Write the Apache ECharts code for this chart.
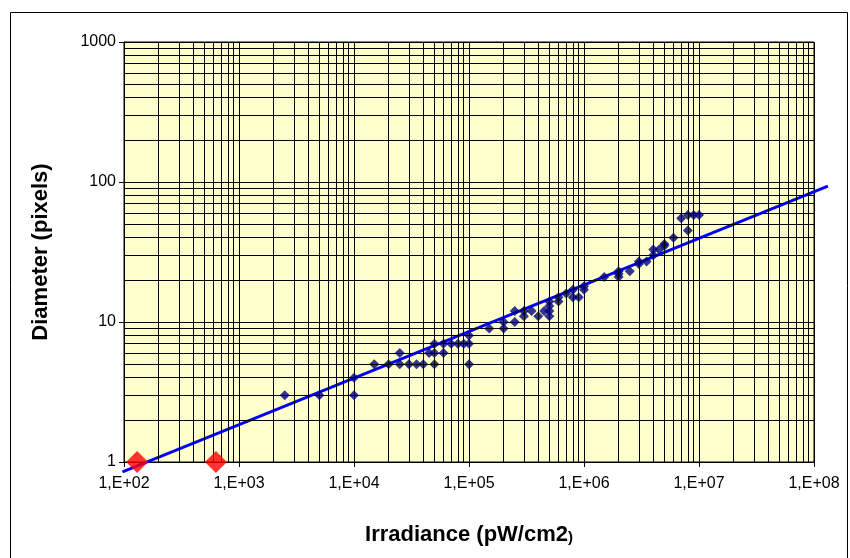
<!DOCTYPE html>
<html>
<head>
<meta charset="utf-8">
<script src="https://cdn.jsdelivr.net/npm/echarts@6/dist/echarts.min.js"></script>
<style>
html,body{margin:0;padding:0;background:#fff;}
#chart{width:850px;height:558px;}
</style>
</head>
<body>
<div id="chart"></div>
<script>
// Measured points (irradiance pW/cm2, diameter pixels)
const measuredX = [2500,5000,10000,10000,15000,20000,25000,25000,30000,35000,40000,45000,50000,50000,50000,60000,60000,70000,80000,90000,100000,100000,100000,150000,200000,200000,250000,250000,300000,300000,350000,400000,450000,500000,500000,500000,500000,600000,600000,700000,800000,800000,900000,1000000,1000000,1500000,2000000,2000000,2000000,2500000,3000000,3000000,3500000,4000000,4000000,4500000,5000000,5000000,6000000,7000000,8000000,8000000,9000000,10000000];
const measuredY = [3,3,3,4,5,5,5,6,5,5,5,6,5,6,7,6,7,7,7,7,5,7,8,9,9,10,10,12,11,12,12,11,12,11,12,13,14,14,15,16,15,17,15,17,18,21,21,22,23,23,26,27,27,30,33,33,35,36,40,55,45,58,58,58];
// Highlighted points
const redX = [130, 630];
const redY = [1, 1];
// Power trendline endpoints (extends slightly past the axis range)
const trendX = [97, 1.32e8];
const trendY = [0.85, 93.6];
// Tick labels
const xTickValues = [1e2,1e3,1e4,1e5,1e6,1e7,1e8];
const xTickLabels = ['1,E+02','1,E+03','1,E+04','1,E+05','1,E+06','1,E+07','1,E+08'];
const yTickValues = [1,10,100,1000];
const yTickLabels = ['1','10','100','1000'];
const minorMultipliers = [2,3,4,5,6,7,8,9];

const zip = (a,b) => a.map((v,i)=>[v,b[i]]);

const minorXLines = [];
for (let d = 2; d < 8; d++) for (const m of minorMultipliers) minorXLines.push({xAxis: m*Math.pow(10,d)});
const minorYLines = [];
for (let d = 0; d < 3; d++) for (const m of minorMultipliers) minorYLines.push({yAxis: m*Math.pow(10,d)});

// second (invisible) coordinate system sharing the same scale, widened so the trendline can run past 1E+08
const gridLeft = 124, gridRight = 36, gridWidth = 850 - gridLeft - gridRight;
const extMax = 1.45e8;
const extWidth = gridWidth * (Math.log10(extMax) - 2) / 6;

const chart = echarts.init(document.getElementById('chart'), null, {renderer:'canvas'});
const font = 'Liberation Sans, Arial, sans-serif';
const fmt = (ticks, labels) => v => { const i = ticks.findIndex(t => Math.abs(Math.log10(t) - Math.log10(v)) < 1e-6); return i >= 0 ? labels[i] : ''; };
chart.setOption({
  animation: false,
  backgroundColor: '#ffffff',
  graphic: [{
    type: 'rect', shape: {x: 10.5, y: 12.5, width: 837, height: 560},
    style: {fill: 'none', stroke: '#000', lineWidth: 1}, z: -10
  }],
  grid: [
    {left: gridLeft, right: gridRight, top: 42, bottom: 96, show: true, backgroundColor: '#FFFFCC', borderColor: '#000', borderWidth: 1},
    {left: gridLeft, width: extWidth, top: 42, bottom: 96, show: false}
  ],
  xAxis: [{
    type: 'log', logBase: 10, min: 100, max: 1e8, gridIndex: 0,
    name: '{a|Irradiance (pW/cm2}{b|)}', nameLocation: 'middle', nameGap: 62,
    nameTextStyle: {rich: {a: {fontFamily: font, fontWeight: 'bold', fontSize: 22, color: '#000'}, b: {fontFamily: font, fontWeight: 'bold', fontSize: 15, color: '#000', padding:[6,0,0,0]}}},
    axisLine: {show: true, lineStyle: {color: '#000', width: 1}},
    axisTick: {show: true, length: 5, lineStyle: {color: '#000'}},
    axisLabel: {fontFamily: font, fontSize: 16, color: '#000', margin: 14, formatter: fmt(xTickValues, xTickLabels)},
    splitLine: {show: true, lineStyle: {color: '#000', width: 1}},
    minorTick: {show: false}, minorSplitLine: {show: false}
  }, {
    type: 'log', logBase: 10, min: 100, max: extMax, gridIndex: 1, show: false,
    splitLine: {show: false}
  }],
  yAxis: [{
    type: 'log', logBase: 10, min: 1, max: 1000, gridIndex: 0,
    name: 'Diameter (pixels)', nameLocation: 'middle', nameGap: 72,
    nameTextStyle: {fontFamily: font, fontWeight: 'bold', fontSize: 22, color: '#000'},
    axisLine: {show: true, lineStyle: {color: '#000', width: 1}},
    axisTick: {show: true, length: 5, lineStyle: {color: '#000'}},
    axisLabel: {fontFamily: font, fontSize: 16, color: '#000', margin: 8, formatter: fmt(yTickValues, yTickLabels)},
    splitLine: {show: true, lineStyle: {color: '#000', width: 1}}
  }, {
    type: 'log', logBase: 10, min: 1, max: 1000, gridIndex: 1, show: false,
    splitLine: {show: false}
  }],
  series: [
    {
      type: 'line', data: [], silent: true, z: 1,
      markLine: {silent: true, symbol: 'none', animation: false, label: {show: false},
        lineStyle: {color: '#000', width: 1, type: 'solid'},
        data: minorXLines.concat(minorYLines)}
    },
    {
      type: 'line', xAxisIndex: 1, yAxisIndex: 1, data: zip(trendX, trendY), showSymbol: false, symbol: 'none', clip: false, z: 3,
      lineStyle: {color: '#0000FF', width: 3}
    },
    {
      type: 'scatter', data: zip(measuredX, measuredY), symbol: 'diamond', symbolSize: 10, z: 4,
      itemStyle: {color: '#000080'}
    },
    {
      type: 'scatter', data: zip(redX, redY), symbol: 'diamond', symbolSize: 22, clip: false, z: 5,
      itemStyle: {color: '#FF0000'}
    }
  ]
});
</script>
</body>
</html>
